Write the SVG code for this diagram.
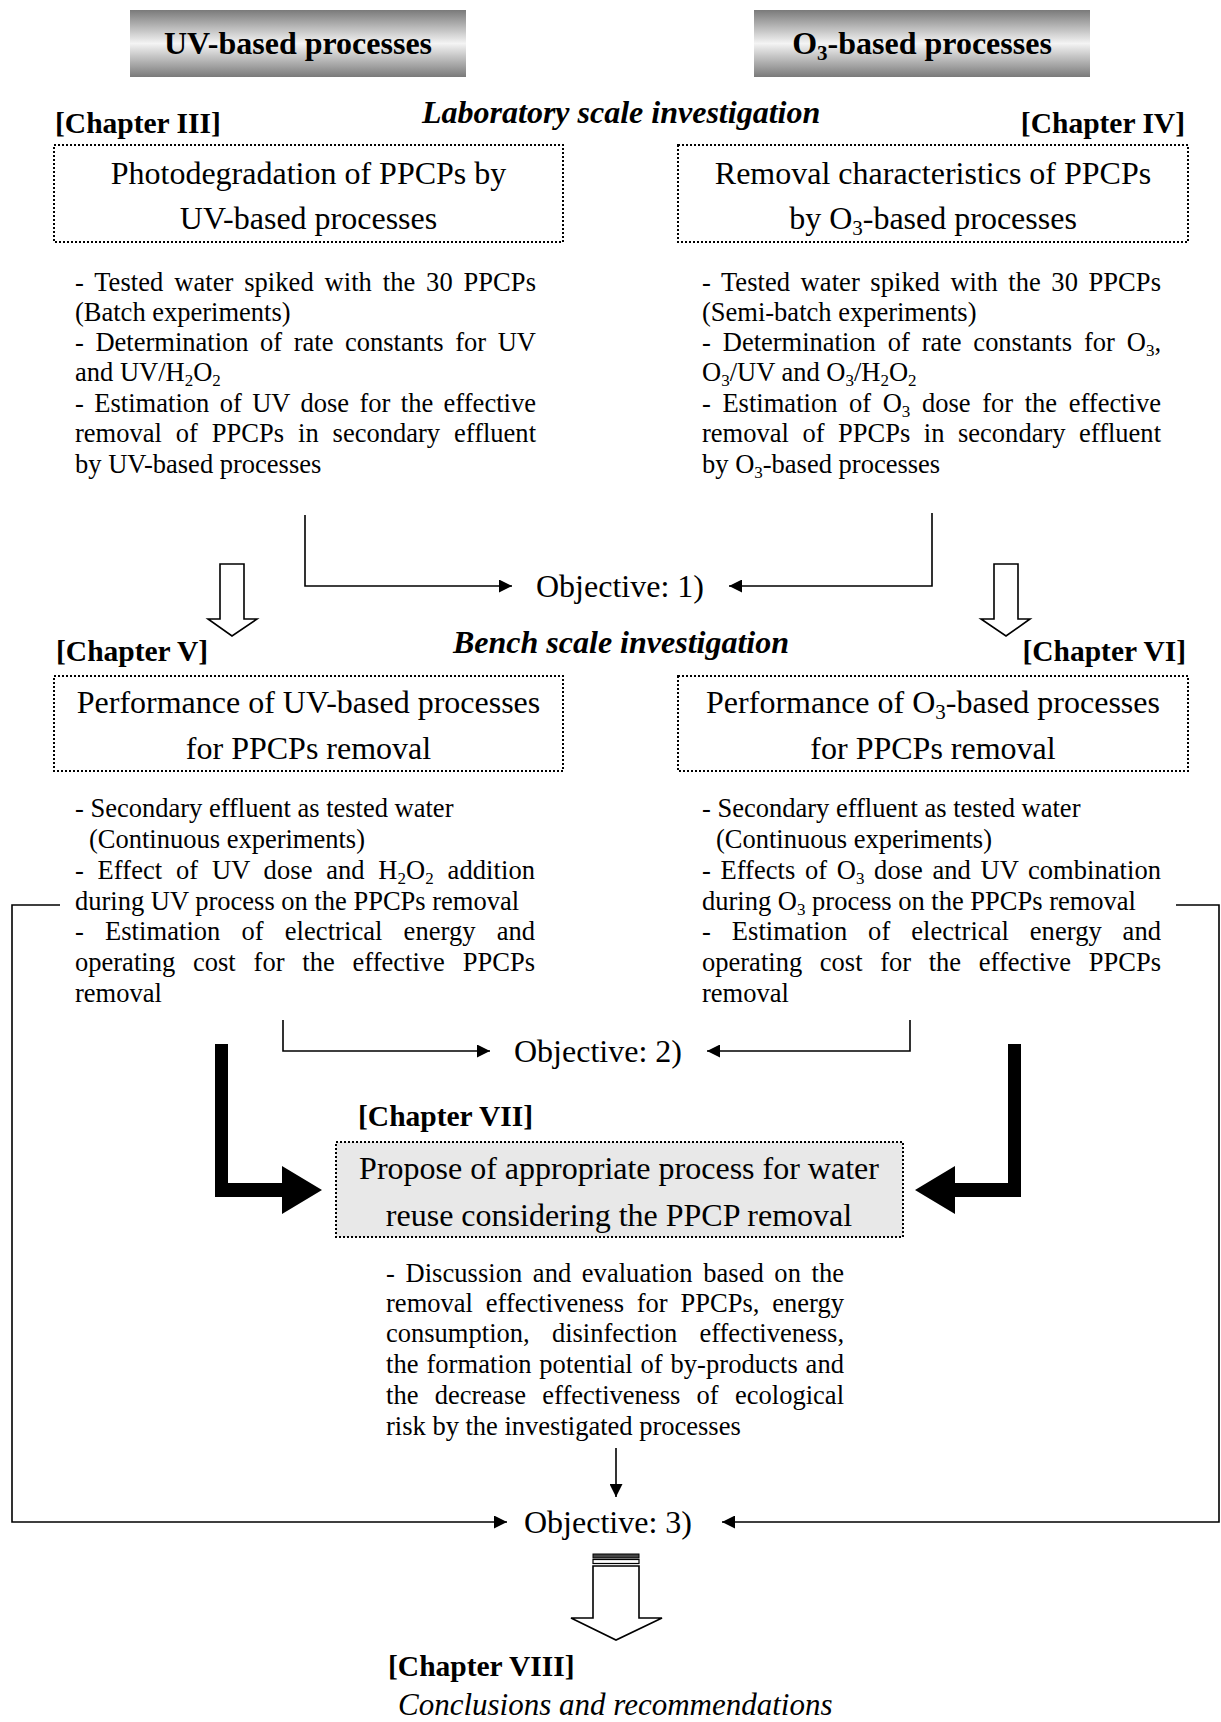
<svg xmlns="http://www.w3.org/2000/svg" width="1221" height="1722" viewBox="0 0 1221 1722">
<style>
.t{font-family:"Liberation Serif","Times New Roman",serif;fill:#000}
.body{font-size:26.5px}
.title{font-size:32px}
.lbl{font-size:29.5px;font-weight:bold}
.sect{font-size:32px;font-weight:bold;font-style:italic}
.hdr{font-size:32px;font-weight:bold}
.obj{font-size:32px}
.mid{text-anchor:middle}
.dot{fill:none;stroke:#000;stroke-width:2;stroke-dasharray:2 2}
.conn{fill:none;stroke:#000;stroke-width:1.6}
.hollow{fill:#fff;stroke:#000;stroke-width:1.6;stroke-linejoin:miter}
</style>
<defs>
<linearGradient id="hg" x1="0" y1="0" x2="0" y2="1">
<stop offset="0" stop-color="#7a7a7a"/>
<stop offset="0.5" stop-color="#f4f4f4"/>
<stop offset="1" stop-color="#7a7a7a"/>
</linearGradient>
<marker id="ah" viewBox="0 0 10 10" refX="10" refY="5" markerWidth="15" markerHeight="13" markerUnits="userSpaceOnUse" orient="auto">
<path d="M0,0 L10,5 L0,10 z" fill="#000"/>
</marker>
</defs>
<rect width="1221" height="1722" fill="#fff"/>

<g id="hdr-uv">
<rect x="130" y="10" width="336" height="67" fill="url(#hg)"/>
<text class="t hdr mid" x="298" y="54">UV-based processes</text>
</g>
<g id="hdr-o3">
<rect x="754" y="10" width="336" height="67" fill="url(#hg)"/>
<text class="t hdr mid" x="922" y="54">O<tspan font-size="21" dy="6">3</tspan><tspan dy="-6">-based processes</tspan></text>
</g>

<g id="sections">
<text class="t sect" x="422" y="123">Laboratory scale investigation</text>
<text class="t sect" x="453" y="653">Bench scale investigation</text>
</g>

<g id="ch3">
<text class="t lbl" x="55" y="133">[Chapter III]</text>
<rect class="dot" x="54" y="145" width="509" height="97"/>
<text class="t title mid" x="308.5" y="184">Photodegradation of PPCPs by</text>
<text class="t title mid" x="308.5" y="229">UV-based processes</text>
<g class="t body">
<text x="75" y="291" style="word-spacing:4.1px" textLength="461" lengthAdjust="spacing">- Tested water spiked with the 30 PPCPs</text>
<text x="75" y="321">(Batch experiments)</text>
<text x="75" y="351" style="word-spacing:4.95px" textLength="461" lengthAdjust="spacing">- Determination of rate constants for UV</text>
<text x="75" y="381">and UV/H<tspan font-size="17" dy="5">2</tspan><tspan dy="-5">O</tspan><tspan font-size="17" dy="5">2</tspan></text>
<text x="75" y="412" style="word-spacing:3.7px" textLength="461" lengthAdjust="spacing">- Estimation of UV dose for the effective</text>
<text x="75" y="442" style="word-spacing:7.3px" textLength="461" lengthAdjust="spacing">removal of PPCPs in secondary effluent</text>
<text x="75" y="473">by UV-based processes</text>
</g>
</g>

<g id="ch4">
<text class="t lbl" x="1185" y="133" text-anchor="end">[Chapter IV]</text>
<rect class="dot" x="678" y="145" width="510" height="97"/>
<text class="t title mid" x="933" y="184">Removal characteristics of PPCPs</text>
<text class="t title mid" x="933" y="229">by O<tspan font-size="21" dy="6">3</tspan><tspan dy="-6">-based processes</tspan></text>
<g class="t body">
<text x="702" y="291" style="word-spacing:3.8px" textLength="459" lengthAdjust="spacing">- Tested water spiked with the 30 PPCPs</text>
<text x="702" y="321">(Semi-batch experiments)</text>
<text x="702" y="351" style="word-spacing:5.3px" textLength="459" lengthAdjust="spacing">- Determination of rate constants for O<tspan font-size="17" dy="5">3</tspan><tspan dy="-5">,</tspan></text>
<text x="702" y="381">O<tspan font-size="17" dy="5">3</tspan><tspan dy="-5">/UV and O</tspan><tspan font-size="17" dy="5">3</tspan><tspan dy="-5">/H</tspan><tspan font-size="17" dy="5">2</tspan><tspan dy="-5">O</tspan><tspan font-size="17" dy="5">2</tspan></text>
<text x="702" y="412" style="word-spacing:4.95px" textLength="459" lengthAdjust="spacing">- Estimation of O<tspan font-size="17" dy="5">3</tspan><tspan dy="-5"> dose for the effective</tspan></text>
<text x="702" y="442" style="word-spacing:6.9px" textLength="459" lengthAdjust="spacing">removal of PPCPs in secondary effluent</text>
<text x="702" y="473">by O<tspan font-size="17" dy="5">3</tspan><tspan dy="-5">-based processes</tspan></text>
</g>
</g>

<g id="obj1">
<text class="t obj" x="536" y="597">Objective: 1)</text>
</g>

<g id="ch5">
<text class="t lbl" x="56" y="661">[Chapter V]</text>
<rect class="dot" x="54" y="676" width="509" height="95"/>
<text class="t title mid" x="308.5" y="713">Performance of UV-based processes</text>
<text class="t title mid" x="308.5" y="759">for PPCPs removal</text>
<g class="t body">
<text x="75" y="817">- Secondary effluent as tested water</text>
<text x="89" y="848">(Continuous experiments)</text>
<text x="75" y="879" style="word-spacing:7px" textLength="460" lengthAdjust="spacing">- Effect of UV dose and H<tspan font-size="17" dy="5">2</tspan><tspan dy="-5">O</tspan><tspan font-size="17" dy="5">2</tspan><tspan dy="-5"> addition</tspan></text>
<text x="75" y="910">during UV process on the PPCPs removal</text>
<text x="75" y="940" style="word-spacing:14.4px" textLength="460" lengthAdjust="spacing">- Estimation of electrical energy and</text>
<text x="75" y="971" style="word-spacing:11.2px" textLength="460" lengthAdjust="spacing">operating cost for the effective PPCPs</text>
<text x="75" y="1002">removal</text>
</g>
</g>

<g id="ch6">
<text class="t lbl" x="1186" y="661" text-anchor="end">[Chapter VI]</text>
<rect class="dot" x="678" y="676" width="510" height="95"/>
<text class="t title mid" x="933" y="713">Performance of O<tspan font-size="21" dy="6">3</tspan><tspan dy="-6">-based processes</tspan></text>
<text class="t title mid" x="933" y="759">for PPCPs removal</text>
<g class="t body">
<text x="702" y="817">- Secondary effluent as tested water</text>
<text x="716" y="848">(Continuous experiments)</text>
<text x="702" y="879" style="word-spacing:2.9px" textLength="459" lengthAdjust="spacing">- Effects of O<tspan font-size="17" dy="5">3</tspan><tspan dy="-5"> dose and UV combination</tspan></text>
<text x="702" y="910">during O<tspan font-size="17" dy="5">3</tspan><tspan dy="-5"> process on the PPCPs removal</tspan></text>
<text x="702" y="940" style="word-spacing:14.2px" textLength="459" lengthAdjust="spacing">- Estimation of electrical energy and</text>
<text x="702" y="971" style="word-spacing:11px" textLength="459" lengthAdjust="spacing">operating cost for the effective PPCPs</text>
<text x="702" y="1002">removal</text>
</g>
</g>

<g id="obj2">
<text class="t obj" x="514" y="1062">Objective: 2)</text>
</g>

<g id="ch7">
<text class="t lbl" x="358" y="1126">[Chapter VII]</text>
<rect x="336" y="1142" width="567" height="95" fill="#e8e8e8"/>
<rect class="dot" x="336" y="1142" width="567" height="95"/>
<text class="t title mid" x="619" y="1179">Propose of appropriate process for water</text>
<text class="t title mid" x="619" y="1226">reuse considering the PPCP removal</text>
<g class="t body">
<text x="386" y="1282" style="word-spacing:3.95px" textLength="458" lengthAdjust="spacing">- Discussion and evaluation based on the</text>
<text x="386" y="1312" style="word-spacing:6.1px" textLength="458" lengthAdjust="spacing">removal effectiveness for PPCPs, energy</text>
<text x="386" y="1342" style="word-spacing:15.6px" textLength="458" lengthAdjust="spacing">consumption, disinfection effectiveness,</text>
<text x="386" y="1373" style="word-spacing:1.1px" textLength="458" lengthAdjust="spacing">the formation potential of by-products and</text>
<text x="386" y="1404" style="word-spacing:9.65px" textLength="458" lengthAdjust="spacing">the decrease effectiveness of ecological</text>
<text x="386" y="1435">risk by the investigated processes</text>
</g>
</g>

<g id="obj3">
<text class="t obj" x="524" y="1533">Objective: 3)</text>
</g>

<g id="ch8">
<text class="t lbl" x="388" y="1676">[Chapter VIII]</text>
<text class="t" x="398" y="1715" font-size="31" font-style="italic">Conclusions and recommendations</text>
</g>

<g id="connectors">
<polyline class="conn" points="305,515 305,586 512,586" marker-end="url(#ah)"/>
<polyline class="conn" points="932,513 932,586 729,586" marker-end="url(#ah)"/>
<polyline class="conn" points="283,1020 283,1051 490,1051" marker-end="url(#ah)"/>
<polyline class="conn" points="910,1020 910,1051 707,1051" marker-end="url(#ah)"/>
<polyline class="conn" points="60,905 12,905 12,1522 507,1522" marker-end="url(#ah)"/>
<polyline class="conn" points="1176,905 1219,905 1219,1522 722,1522" marker-end="url(#ah)"/>
<line class="conn" x1="616" y1="1448" x2="616" y2="1497" marker-end="url(#ah)"/>
<path class="hollow" d="M220,564 H244 V619 H257 L232,636 L208,619 H220 Z"/>
<path class="hollow" d="M994,564 H1018 V619 H1030 L1006,636 L981,619 H994 Z"/>
<path d="M215,1044 H228 V1183 H282 V1166 L322,1190 L282,1214 V1197 H215 Z" fill="#000"/>
<path d="M1008,1044 H1021 V1197 H955 V1214 L915,1190 L955,1166 V1183 H1008 Z" fill="#000"/>
<rect x="593" y="1554" width="46" height="4" fill="#444" stroke="#000" stroke-width="1"/>
<rect x="593" y="1559.5" width="46" height="4" fill="#fff" stroke="#000" stroke-width="1.2"/>
<path class="hollow" d="M593,1566 H639 V1618 H662 L616,1640 L571,1618 H593 Z"/>
</g>
</svg>
